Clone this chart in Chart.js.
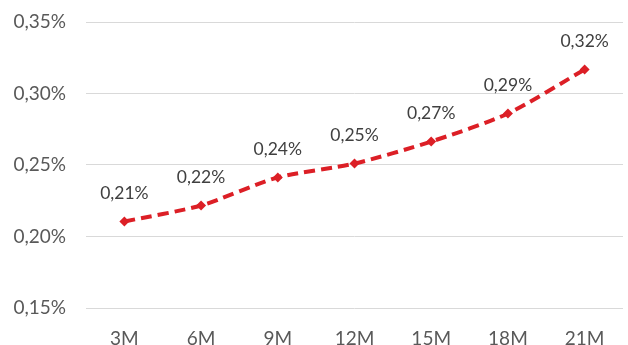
<!DOCTYPE html>
<html>
<head>
<meta charset="utf-8">
<script src="https://cdn.jsdelivr.net/npm/chart.js@4"></script>
<style>
  html, body { margin: 0; padding: 0; background: #fff; }
  canvas { display: block; }
</style>
</head>
<body>
<canvas id="grafico" width="628" height="345"></canvas>
<script>
// dados (em %)
var categorias = ["3M", "6M", "9M", "12M", "15M", "18M", "21M"];
var valores = [0.2105, 0.2217, 0.2413, 0.251, 0.2664, 0.286, 0.3168];
var ticksY = [0.15, 0.20, 0.25, 0.30, 0.35];

function formata(v) {
    return v.toFixed(2).replace('.', ',') + '%';
}

// rotulos acima dos pontos
var rotulos = {
    id: 'rotulos',
    afterDatasetsDraw: function (chart) {
        var ctx = chart.ctx;
        var meta = chart.getDatasetMeta(0);
        ctx.save();
        ctx.font = '17.5px Lato, "Open Sans", sans-serif';
        ctx.fillStyle = '#404040';
        ctx.textAlign = 'center';
        ctx.textBaseline = 'middle';
        meta.data.forEach(function (p, i) {
            ctx.fillText(formata(valores[i]), p.x, p.y - 28);
        });
        ctx.restore();
    }
};

var ctx = document.getElementById("grafico");
var grafico = new Chart(ctx, {
    type: 'line',
    data: {
        labels: categorias,
        datasets: [{
            data: valores,
            borderColor: '#dc1f26',
            backgroundColor: '#dc1f26',
            borderWidth: 4,
            borderDash: [11, 6],
            tension: 0.25,
            pointStyle: 'rectRot',
            pointRadius: 5,
            pointBorderWidth: 0,
            fill: false
        }]
    },
    options: {
        responsive: false,
        animation: false,
        events: [],
        layout: { padding: { top: 22, right: -3, left: 0, bottom: 0 } },
        plugins: {
            legend: { display: false },
            tooltip: { enabled: false }
        },
        scales: {
            x: {
                offset: true,
                grid: { display: false, drawTicks: false },
                border: { display: false },
                ticks: {
                    color: '#595959',
                    padding: 19,
                    maxRotation: 0,
                    font: { size: 19, family: 'Lato, "Open Sans", sans-serif' }
                },
                afterFit: function (s) {
                    s.height = 37;
                    s.paddingLeft = 0;
                    s.paddingRight = 0;
                }
            },
            y: {
                min: 0.15,
                max: 0.35,
                grid: { color: '#d9d9d9', lineWidth: 1, drawTicks: false },
                border: { display: false },
                afterBuildTicks: function (s) {
                    s.ticks = ticksY.map(function (v) { return { value: v }; });
                },
                ticks: {
                    color: '#595959',
                    padding: 20,
                    font: { size: 19, family: 'Lato, "Open Sans", sans-serif' },
                    callback: function (v) { return formata(v); }
                },
                afterFit: function (s) {
                    s.width = 86;
                    s.paddingTop = 0;
                    s.paddingBottom = 0;
                }
            }
        }
    },
    plugins: [rotulos]
});
</script>
</body>
</html>
